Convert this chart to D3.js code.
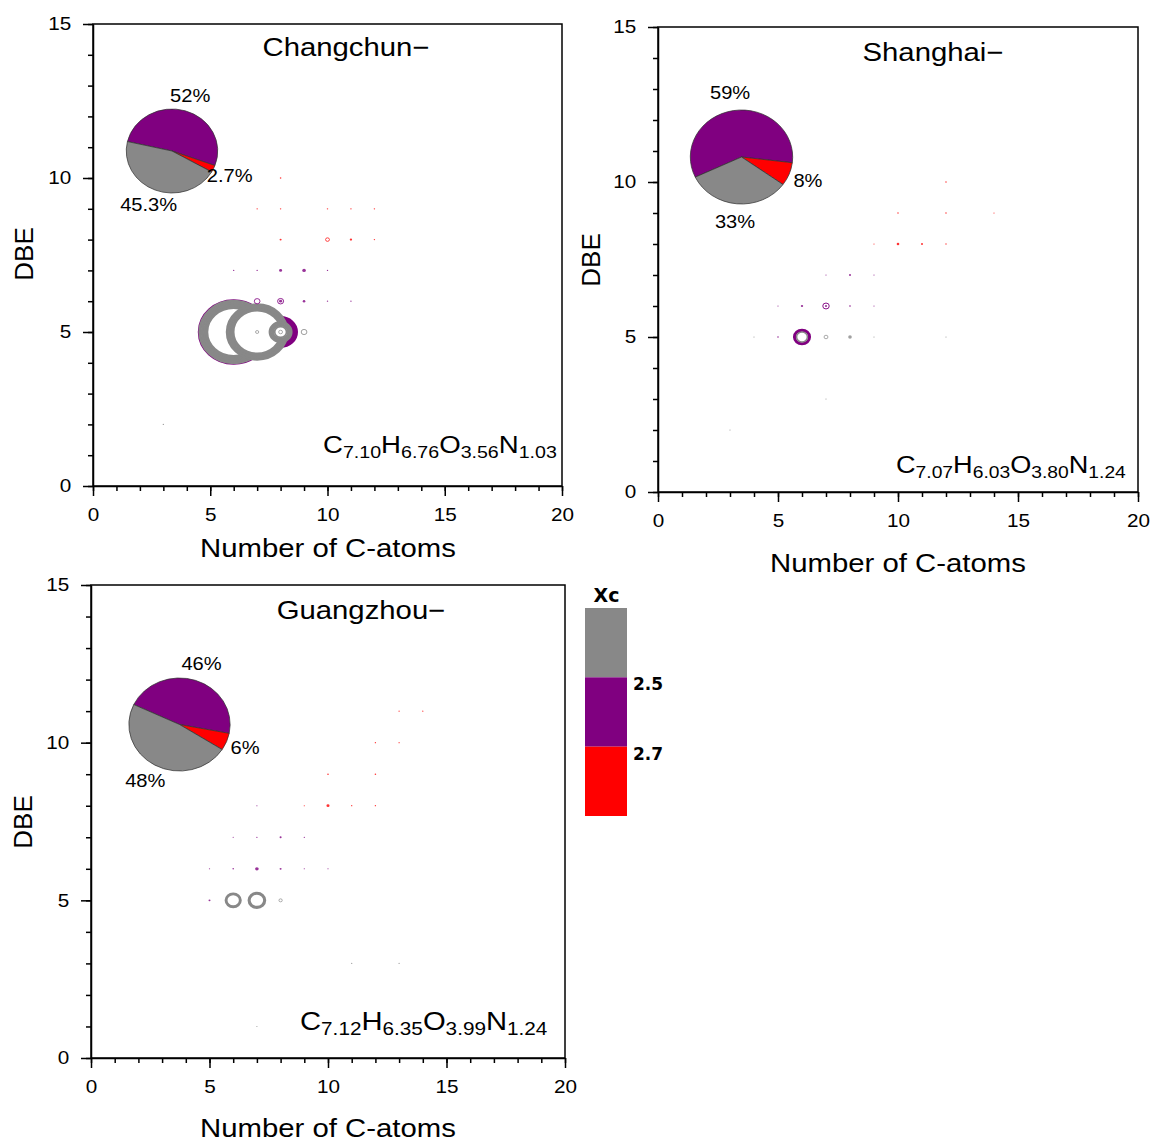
<!DOCTYPE html>
<html><head><meta charset="utf-8">
<script src="https://cdn.jsdelivr.net/npm/d3@7"></script>
<style>body{margin:0;background:#fff}svg{display:block}text{fill:#000}</style>
</head><body><svg id="c" width="1155" height="1142"></svg>
<script>
// ---------- data ----------
const xTicks = [0, 5, 10, 15, 20];
const yTicks = [0, 5, 10, 15];
const xMinor = d3.range(0, 21);
const yMinor = d3.range(0, 16);
const xcClasses = ['G', 'P', 'R'];            // Xc < 2.5, 2.5–2.7, > 2.7
const xcColors = ['#888888', '#800080', '#ff0000'];
const xcBreaks = ['2.5', '2.7'];
const pieClasses = ['P', 'R', 'G'];

const changchunPie = [52, 2.7, 45.3];
const shanghaiPie = [59, 8, 33];
const guangzhouPie = [46, 6, 48];

const changchunFormula = [['C', '7.10'], ['H', '6.76'], ['O', '3.56'], ['N', '1.03']];
const shanghaiFormula = [['C', '7.07'], ['H', '6.03'], ['O', '3.80'], ['N', '1.24']];
const guangzhouFormula = [['C', '7.12'], ['H', '6.35'], ['O', '3.99'], ['N', '1.24']];

// [C atoms, DBE, relative intensity, Xc class]
const changchunPoints = [
  [6, 5, 98, 'P'], [6, 5, 96.4, 'G'], [6, 5, 89.7, 'G'], [6, 5, 83, 'G'], [6, 5, 77.6, 'G'],
  [8, 5, 47, 'P'], [8, 5, 40.3, 'P'], [8, 5, 35.2, 'P'],
  [7, 5, 85.5, 'G'], [7, 5, 78.8, 'G'], [7, 5, 72.1, 'G'], [7, 5, 70, 'G'],
  [8, 5, 32.1, 'G'], [8, 5, 25.5, 'G'], [8, 5, 18.8, 'G'],
  [8, 5, 6.4, 'G'], [7, 5, 5.5, 'G'], [9, 5, 9.1, 'G'],
  [8, 10, 2.2, 'R'],
  [7, 9, 2, 'R'], [8, 9, 2, 'R'], [10, 9, 2, 'R'], [11, 9, 2, 'R'], [12, 9, 2, 'R'],
  [8, 8, 2.8, 'R'], [10, 8, 6.4, 'R'], [11, 8, 3.3, 'R'], [12, 8, 2, 'R'],
  [6, 7, 1.9, 'P'], [7, 7, 1.9, 'P'], [8, 7, 4.2, 'P'], [9, 7, 5, 'P'], [10, 7, 1.9, 'P'],
  [7, 6, 9.1, 'P'], [8, 6, 9.6, 'P'], [8, 6, 4.2, 'P'], [9, 6, 3.6, 'P'], [10, 6, 1.9, 'P'], [11, 6, 1.9, 'P'],
  [3, 2, 1.9, 'G']
];
const shanghaiPoints = [
  [12, 10, 2, 'R'],
  [10, 9, 2, 'R'], [12, 9, 2, 'R'], [14, 9, 1.7, 'R'],
  [9, 8, 1.7, 'R'], [10, 8, 3.6, 'R'], [11, 8, 2.8, 'R'], [12, 8, 1.9, 'R'],
  [7, 7, 1.7, 'P'], [8, 7, 2.8, 'P'], [9, 7, 1.7, 'P'],
  [5, 6, 1.7, 'P'], [6, 6, 3.3, 'P'], [7, 6, 10.3, 'P'], [7, 6, 3, 'P'], [8, 6, 2.5, 'P'], [9, 6, 1.7, 'P'],
  [4, 5, 1.7, 'G'], [5, 5, 2.2, 'P'], [6, 5, 24, 'P'], [6, 5, 17.3, 'G'], [7, 5, 6.4, 'G'], [8, 5, 5, 'G'],
  [9, 5, 1.7, 'G'], [12, 5, 1.7, 'G'],
  [7, 3, 1.7, 'G'], [3, 2, 1.7, 'G']
];
const guangzhouPoints = [
  [13, 11, 1.7, 'R'], [14, 11, 1.7, 'R'],
  [12, 10, 1.9, 'R'], [13, 10, 1.7, 'R'],
  [10, 9, 2.2, 'R'], [12, 9, 2.2, 'R'],
  [7, 8, 1.7, 'P'], [9, 8, 1.7, 'R'], [10, 8, 4.2, 'R'], [11, 8, 1.9, 'R'], [12, 8, 1.9, 'R'],
  [6, 7, 1.7, 'P'], [7, 7, 1.9, 'P'], [8, 7, 2.8, 'P'], [9, 7, 1.9, 'P'],
  [5, 6, 1.7, 'P'], [6, 6, 2.2, 'P'], [7, 6, 5, 'P'], [8, 6, 2.8, 'P'], [9, 6, 1.7, 'P'], [10, 6, 1.7, 'P'],
  [5, 5, 2.8, 'P'], [6, 5, 22.7, 'G'], [7, 5, 24.8, 'G'], [8, 5, 5.6, 'G'],
  [11, 3, 1.7, 'G'], [13, 3, 1.7, 'G'], [7, 1, 1.7, 'G']
];

// ---------- layout ----------
const FONT = '"Liberation Sans", Arial, sans-serif';
const STRETCH = 1.15;   // horizontal stretch of the original figure
const ELL = 1.1;        // aspect of round marks
const panels = [
  { title: 'Changchun\u2212', pts: changchunPoints, pie: changchunPie, formula: changchunFormula,
    x0: 93, x1: 562, y0: 486, y1: 24, pieC: [172, 151], pieR: 42, pieStart: -77,
    titleXY: [346, 56], formXY: [323, 453], formSize: 24, xlabXY: [328, 557], ylabXY: [33, 254] },
  { title: 'Shanghai\u2212', pts: shanghaiPoints, pie: shanghaiPie, formula: shanghaiFormula,
    x0: 658, x1: 1138, y0: 492, y1: 27, pieC: [741.5, 157], pieR: 47, pieStart: -115.4,
    titleXY: [933, 61], formXY: [896, 473], formSize: 23.6, xlabXY: [898, 572], ylabXY: [600, 260] },
  { title: 'Guangzhou\u2212', pts: guangzhouPoints, pie: guangzhouPie, formula: guangzhouFormula,
    x0: 91, x1: 565, y0: 1058, y1: 585, pieC: [179.5, 724.5], pieR: 46.5, pieStart: -64.6,
    titleXY: [361, 619], formXY: [300, 1030], formSize: 25.4, xlabXY: [328, 1137], ylabXY: [32, 822] }
];

const svg = d3.select('#c');
const color = d3.scaleOrdinal().domain(xcClasses).range(xcColors);
const rScale = d3.scaleLinear().domain([0, 100]).range([0, 33]);

function stext(parent, x, y, str, size, anchor) {
  return parent.append('text')
    .attr('transform', `translate(${x},${y}) scale(${STRETCH},1)`)
    .attr('text-anchor', anchor || 'middle')
    .style('font-family', FONT)
    .attr('font-size', size)
    .text(str);
}

function styleAxis(sel) {
  sel.attr('font-family', null).attr('font-size', null);
  sel.select('.domain').attr('stroke', '#000').attr('stroke-width', 1.5);
  sel.selectAll('.tick line').attr('stroke', '#000').attr('stroke-width', 1.5);
}

panels.forEach(p => {
  const g = svg.append('g');
  const x = d3.scaleLinear().domain([0, 20]).range([p.x0, p.x1]);
  const y = d3.scaleLinear().domain([0, 15]).range([p.y0, p.y1]);

  // frame
  g.append('rect').attr('x', p.x0).attr('y', p.y1)
    .attr('width', p.x1 - p.x0).attr('height', p.y0 - p.y1)
    .attr('fill', 'none').attr('stroke', '#000').attr('stroke-width', 1.5);

  // marks
  const mg = g.append('g');
  p.pts.forEach(d => {
    const ro = rScale(d[2]);
    const col = color(d[3]);
    const e = mg.append('ellipse').attr('cx', x(d[0])).attr('cy', y(d[1]));
    if (ro < 1.7) {
      e.attr('rx', ro * ELL).attr('ry', ro).attr('fill', col).attr('fill-opacity', 0.8);
    } else {
      const sw = Math.max(0.7, Math.min(2.2, ro * 0.27));
      const rr = ro - sw / 2;
      e.attr('rx', rr * ELL).attr('ry', rr).attr('fill', '#fff')
        .attr('stroke', col).attr('stroke-width', sw > 2 ? sw + 0.9 : sw);
    }
  });

  // minor ticks
  g.append('g').attr('transform', `translate(0,${p.y0})`)
    .call(d3.axisBottom(x).tickValues(xMinor).tickSize(5).tickFormat('').tickSizeOuter(0))
    .call(styleAxis).select('.domain').remove();
  g.append('g').attr('transform', `translate(${p.x0},0)`)
    .call(d3.axisLeft(y).tickValues(yMinor).tickSize(5).tickFormat('').tickSizeOuter(0))
    .call(styleAxis).select('.domain').remove();

  // major axes
  const xa = g.append('g').attr('transform', `translate(0,${p.y0})`)
    .call(d3.axisBottom(x).tickValues(xTicks).tickSize(10).tickPadding(12.5).tickSizeOuter(0))
    .call(styleAxis);
  xa.selectAll('.tick text').attr('font-size', 18).attr('fill', '#000').style('font-family', FONT)
    .attr('transform', `scale(${STRETCH},1)`);
  const ya = g.append('g').attr('transform', `translate(${p.x0},0)`)
    .call(d3.axisLeft(y).tickValues(yTicks).tickSize(10).tickPadding(9).tickSizeOuter(0))
    .call(styleAxis);
  ya.selectAll('.tick text').attr('font-size', 18).attr('fill', '#000').style('font-family', FONT)
    .attr('transform', `scale(${STRETCH},1)`);

  // axis titles
  stext(g, p.xlabXY[0], p.xlabXY[1], 'Number of C-atoms', 25.5);
  g.append('text').attr('transform', `translate(${p.ylabXY[0]},${p.ylabXY[1]}) rotate(-90)`)
    .attr('text-anchor', 'middle').style('font-family', FONT).attr('font-size', 26).text('DBE');

  // title
  stext(g, p.titleXY[0], p.titleXY[1], p.title, 25.5);

  // formula
  const fs = p.formSize;
  const ft = g.append('text')
    .attr('transform', `translate(${p.formXY[0]},${p.formXY[1]}) scale(${STRETCH},1)`)
    .attr('text-anchor', 'start').style('font-family', FONT).attr('font-size', fs);
  p.formula.forEach((f, i) => {
    ft.append('tspan').attr('dy', i === 0 ? 0 : -fs * 0.21).text(f[0]);
    ft.append('tspan').attr('dy', fs * 0.21).attr('font-size', fs * 0.71).text(f[1]);
  });

  // pie
  const a0 = p.pieStart * Math.PI / 180;
  const pie = d3.pie().sort(null).startAngle(a0).endAngle(a0 + 2 * Math.PI);
  const arcs = pie(p.pie);
  const arc = d3.arc().innerRadius(0).outerRadius(p.pieR);
  const pg = g.append('g').attr('transform', `translate(${p.pieC[0]},${p.pieC[1]}) scale(${ELL * 0.99},1)`);
  pg.selectAll('path').data(arcs).join('path').attr('d', arc)
    .attr('fill', (d, i) => color(pieClasses[i]))
    .attr('stroke', '#333').attr('stroke-width', 0.7);
  const la = d3.arc().innerRadius(p.pieR * 1.38).outerRadius(p.pieR * 1.38);
  arcs.forEach(d => {
    const c = la.centroid(d);
    stext(g, p.pieC[0] + c[0] * ELL, p.pieC[1] + c[1], d.data + '%', 17.5).attr('dy', '0.35em');
  });
});

// ---------- Xc legend ----------
const lg = svg.append('g');
const ly = d3.scaleBand().domain(xcClasses).range([608, 816]);
lg.selectAll('rect').data(xcClasses).join('rect')
  .attr('x', 585).attr('width', 42)
  .attr('y', d => ly(d)).attr('height', ly.bandwidth())
  .attr('fill', d => color(d));
lg.append('text').attr('x', 606.5).attr('y', 602).attr('text-anchor', 'middle')
  .style('font-family', '"DejaVu Sans", Verdana, sans-serif').attr('font-weight', 'bold')
  .attr('font-size', 19).text('Xc');
xcBreaks.forEach((b, i) => {
  lg.append('text').attr('x', 633).attr('y', ly(xcClasses[i + 1]) + 13)
    .style('font-family', '"DejaVu Sans", Verdana, sans-serif').attr('font-weight', 'bold')
    .attr('font-size', 17).text(b);
});
</script></body></html>
